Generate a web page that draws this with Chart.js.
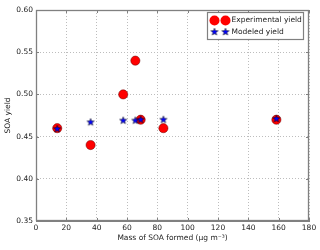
<!DOCTYPE html>
<html>
<head>
<meta charset="utf-8">
<script src="https://cdn.jsdelivr.net/npm/chart.js@4"></script>
<style>
  body { margin: 0; background: #fff; }
  #wrap { width: 320px; height: 250px; }
</style>
</head>
<body>
<div id="wrap"><canvas id="myChart" width="320" height="250"></canvas></div>
<script>
// values
const massFormed = [14, 36, 57.5, 65.5, 69, 84, 158.5];
const expYield = [0.46, 0.44, 0.50, 0.54, 0.47, 0.46, 0.47];
const modelMass = [14, 36, 57.5, 65.5, 69, 84, 158.5];
const modelYield = [0.459, 0.467, 0.469, 0.469, 0.47, 0.47, 0.471];
const xTicks = [0, 20, 40, 60, 80, 100, 120, 140, 160, 180];
const yTicks = [0.35, 0.40, 0.45, 0.50, 0.55, 0.60];

const FONT = 'DejaVu Sans';
const FS = 7.5;
const TXT = '#222';
const FRAME = '#808080';

// filled five point star, matplotlib '*' marker
const makeStar = (r) => {
  const c = document.createElement('canvas');
  const s = Math.ceil(r * 2 + 2);
  c.width = s; c.height = s;
  const g = c.getContext('2d');
  g.beginPath();
  for (let i = 0; i < 10; i++) {
    const rad = i % 2 === 0 ? r : r * 0.42;
    const a = -Math.PI / 2 + i * Math.PI / 5;
    const px = s / 2 + rad * Math.cos(a), py = s / 2 + rad * Math.sin(a);
    if (i === 0) g.moveTo(px, py); else g.lineTo(px, py);
  }
  g.closePath();
  g.fillStyle = '#0000ff';
  g.fill();
  g.lineWidth = 0.5;
  g.strokeStyle = '#000';
  g.stroke();
  return c;
};
const star = makeStar(3.8);

// short inward ticks on all four sides, like matplotlib classic
const innerTicks = {
  id: 'innerTicks',
  afterDatasetsDraw(chart) {
    const { ctx, chartArea: a, scales } = chart;
    ctx.save();
    ctx.strokeStyle = FRAME;
    ctx.lineWidth = 1;
    ctx.beginPath();
    xTicks.forEach(v => {
      const x = Math.round(scales.x.getPixelForValue(v)) + 0.5;
      ctx.moveTo(x, a.bottom); ctx.lineTo(x, a.bottom - 3);
      ctx.moveTo(x, a.top); ctx.lineTo(x, a.top + 3);
    });
    yTicks.forEach(v => {
      const y = Math.round(scales.y.getPixelForValue(v)) + 0.5;
      ctx.moveTo(a.left, y); ctx.lineTo(a.left + 3, y);
      ctx.moveTo(a.right, y); ctx.lineTo(a.right - 3, y);
    });
    ctx.stroke();
    ctx.restore();
  }
};

// solid frame over the dotted grid
const frame = {
  id: 'frame',
  afterDatasetsDraw(chart) {
    const { ctx, chartArea: a } = chart;
    ctx.save();
    ctx.strokeStyle = FRAME;
    ctx.lineWidth = 1.3;
    ctx.strokeRect(Math.round(a.left) + 0.5, Math.round(a.top) + 0.5,
      Math.round(a.right - a.left) - 1, Math.round(a.bottom - a.top) - 1);
    ctx.restore();
  }
};

// legend box inside the axes, two markers per entry
const boxLegend = {
  id: 'boxLegend',
  afterDraw(chart) {
    const { ctx, chartArea: a } = chart;
    const w = 96, h = 27;
    const x0 = Math.round(a.right - 6 - w) + 0.5, y0 = Math.round(a.top + 2) + 0.5;
    ctx.save();
    ctx.fillStyle = '#fff';
    ctx.strokeStyle = FRAME;
    ctx.lineWidth = 1.2;
    ctx.fillRect(x0, y0, w, h);
    ctx.strokeRect(x0, y0, w, h);
    const rows = [y0 + 8, y0 + 19.5];
    [x0 + 7, x0 + 18].forEach(mx => {
      ctx.beginPath();
      ctx.arc(mx, rows[0], 5, 0, Math.PI * 2);
      ctx.fillStyle = '#ff0000';
      ctx.fill();
      ctx.drawImage(star, mx - star.width / 2, rows[1] - star.height / 2);
    });
    ctx.fillStyle = TXT;
    ctx.font = FS + 'px "' + FONT + '"';
    ctx.textBaseline = 'middle';
    ctx.textAlign = 'left';
    ctx.fillText(chart.data.datasets[0].label, x0 + 24, rows[0]);
    ctx.fillText(chart.data.datasets[1].label, x0 + 24, rows[1]);
    ctx.restore();
  }
};

const ctx = document.getElementById('myChart').getContext('2d');
new Chart(ctx, {
  type: 'scatter',
  data: {
    datasets: [{
      label: 'Experimental yield',
      data: massFormed.map((m, i) => ({ x: m, y: expYield[i] })),
      pointRadius: 4.6,
      pointHoverRadius: 4.6,
      backgroundColor: '#ff0000',
      borderColor: '#600',
      borderWidth: 0.5,
      order: 2
    }, {
      label: 'Modeled yield',
      data: modelMass.map((m, i) => ({ x: m, y: modelYield[i] })),
      pointStyle: star,
      order: 1
    }]
  },
  options: {
    responsive: false,
    animation: false,
    layout: { padding: { top: 10, right: 11, left: 0, bottom: 0 } },
    plugins: { legend: { display: false }, tooltip: { enabled: false } },
    scales: {
      x: {
        type: 'linear',
        min: 0, max: 180,
        afterFit: s => { s.height = 29; },
        afterBuildTicks: s => { s.ticks = xTicks.map(v => ({ value: v })); },
        ticks: { padding: 3, color: TXT, font: { family: FONT, size: FS } },
        grid: { drawTicks: false, color: '#bdbdbd', lineWidth: 1 },
        border: { display: true, color: FRAME, width: 1, dash: [1, 2] },
        title: {
          display: true,
          text: 'Mass of SOA formed (μg m⁻³)',
          color: TXT,
          font: { family: FONT, size: FS },
          padding: { top: 0, bottom: 7 }
        }
      },
      y: {
        min: 0.35, max: 0.60,
        afterFit: s => { s.width = 36; },
        afterBuildTicks: s => { s.ticks = yTicks.map(v => ({ value: v })); },
        ticks: {
          padding: 3, color: TXT, font: { family: FONT, size: FS },
          callback: v => v.toFixed(2)
        },
        grid: { drawTicks: false, color: '#bdbdbd', lineWidth: 1 },
        border: { display: true, color: FRAME, width: 1, dash: [1, 2] },
        title: {
          display: true,
          text: 'SOA yield',
          color: TXT,
          font: { family: FONT, size: FS },
          padding: { top: 4, bottom: 0 }
        }
      }
    }
  },
  plugins: [innerTicks, frame, boxLegend]
});
</script>
</body>
</html>
